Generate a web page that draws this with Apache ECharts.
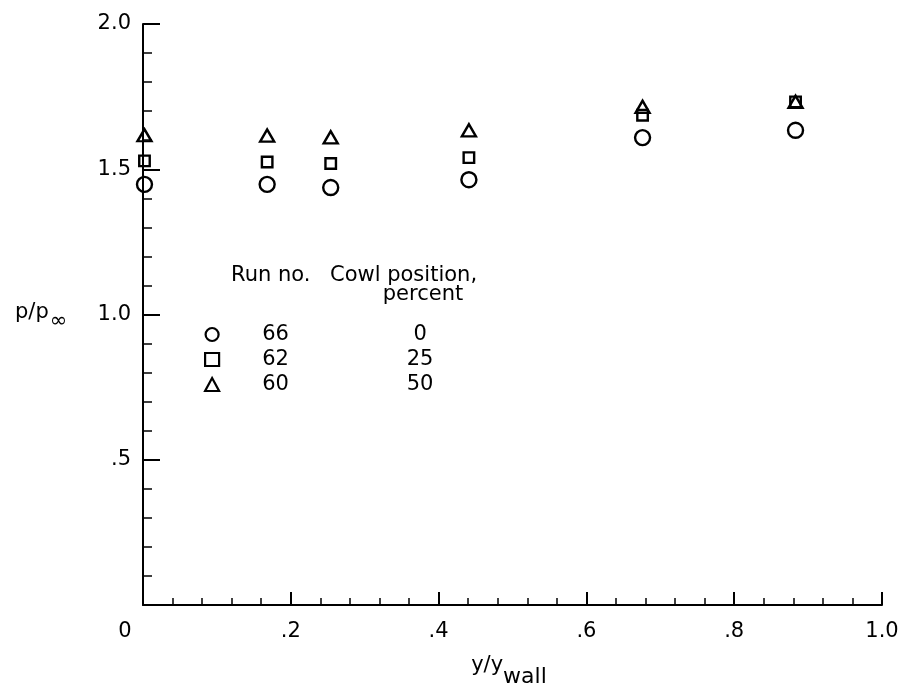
<!DOCTYPE html>
<html>
<head>
<meta charset="utf-8">
<script src="https://cdn.jsdelivr.net/npm/echarts@6/dist/echarts.min.js"></script>
<style>
  html, body { margin: 0; padding: 0; background: #fff; }
  #chart { width: 908px; height: 690px; }
</style>
</head>
<body>
<div id="chart"></div>
<script>
// Wall-normal station y/y_wall and static pressure ratio p/p_inf per run
const stations = [0.002, 0.168, 0.254, 0.441, 0.676, 0.883];
const run66 = [1.448, 1.448, 1.437, 1.464, 1.609, 1.634];
const run62 = [1.529, 1.525, 1.520, 1.540, 1.686, 1.732];
const run60 = [1.617, 1.616, 1.610, 1.634, 1.715, 1.732];

const runNumbers = ['66', '62', '60'];
const cowlPositions = ['0', '25', '50'];
const symbols = ['circle', 'rect', 'triangle'];
const symbolSizes = [15, 10.5, [14, 12]];
const runValues = [run66, run62, run60];

const xTickLabels = { '0': '{z|0}', '0.2': '.2', '0.4': '.4', '0.6': '.6', '0.8': '.8', '1': '1.0' };
const yTickLabels = { '0': '', '0.5': '.5', '1': '1.0', '1.5': '1.5', '2': '2.0' };

const FONT = '"DejaVu Sans", Verdana, sans-serif';
const INK = '#000';
const FS = 21;

const series = runNumbers.map((run, i) => ({
  name: run,
  type: 'scatter',
  symbol: symbols[i],
  symbolSize: symbolSizes[i],
  itemStyle: { color: 'rgba(0,0,0,0)', borderColor: INK, borderWidth: 2.4, opacity: 1 },
  emphasis: { disabled: true },
  data: stations.map((x, j) => [x, runValues[i][j]])
}));

const cowlByRun = {};
runNumbers.forEach((r, i) => { cowlByRun[r] = cowlPositions[i]; });

const chart = echarts.init(document.getElementById('chart'), null, { renderer: 'canvas' });
chart.setOption({
  animation: false,
  backgroundColor: '#fff',
  grid: { left: 143, right: 26, top: 24, bottom: 85, containLabel: false },
  xAxis: {
    type: 'value', min: 0, max: 1, interval: 0.2,
    axisLine: { show: true, onZero: false, lineStyle: { color: INK, width: 2 } },
    axisTick: { show: true, inside: true, length: 13, lineStyle: { color: INK, width: 2 } },
    minorTick: { show: true, splitNumber: 5, length: 7, lineStyle: { color: INK, width: 1.5 } },
    splitLine: { show: false },
    axisLabel: {
      color: INK, fontFamily: FONT, fontSize: FS, margin: 16,
      formatter: v => xTickLabels[String(+v.toFixed(2))] ?? '',
      rich: { z: { fontFamily: FONT, fontSize: FS, color: INK, padding: [0, 36, 0, 0] } }
    }
  },
  yAxis: {
    type: 'value', min: 0, max: 2, interval: 0.5,
    axisLine: { show: true, onZero: false, lineStyle: { color: INK, width: 2 } },
    axisTick: { show: true, inside: true, length: 17, lineStyle: { color: INK, width: 2 } },
    minorTick: { show: true, splitNumber: 5, length: 9, lineStyle: { color: INK, width: 1.5 } },
    splitLine: { show: false },
    axisLabel: {
      color: INK, fontFamily: FONT, fontSize: FS, margin: 12,
      formatter: v => yTickLabels[String(+v.toFixed(2))] ?? ''
    }
  },
  legend: {
    orient: 'vertical',
    left: 204, top: 322, padding: 0,
    itemWidth: 14, itemHeight: 13, itemGap: 0,
    selectedMode: false,
    data: runNumbers.map((r, i) => ({ name: r, icon: symbols[i] })),
    itemStyle: { color: 'rgba(0,0,0,0)', borderColor: INK, borderWidth: 2.2, opacity: 1 },
    formatter: name => '{n|' + name + '}{v|' + cowlByRun[name] + '}',
    textStyle: {
      color: INK, fontFamily: FONT, fontSize: FS, lineHeight: 25,
      rich: {
        n: { fontFamily: FONT, fontSize: FS, color: INK, lineHeight: 25, width: 103, align: 'center' },
        v: { fontFamily: FONT, fontSize: FS, color: INK, lineHeight: 25, width: 186, align: 'center' }
      }
    }
  },
  graphic: [
    {
      type: 'text', x: 231, y: 265,
      style: { text: 'Run no.', font: FS + 'px ' + FONT, fill: INK }
    },
    {
      type: 'text', x: 330, y: 265,
      style: { text: 'Cowl position,', font: FS + 'px ' + FONT, fill: INK }
    },
    {
      type: 'text', x: 423, y: 284,
      style: { text: 'percent', font: FS + 'px ' + FONT, fill: INK, align: 'center' }
    },
    {
      type: 'text', x: 15, y: 302,
      style: {
        text: '{a|p/p}{b|\u221E}',
        rich: {
          a: { fontFamily: FONT, fontSize: FS, fill: INK, color: INK, lineHeight: 24, verticalAlign: 'top' },
          b: { fontFamily: FONT, fontSize: 21, fill: INK, color: INK, lineHeight: 22, padding: [9, 0, 0, 1], verticalAlign: 'top' }
        }
      }
    },
    {
      type: 'text', x: 509, y: 655,
      style: {
        text: '{a|y/y}{b|wall}',
        align: 'center',
        rich: {
          a: { fontFamily: FONT, fontSize: FS, fill: INK, color: INK, lineHeight: 24, verticalAlign: 'top' },
          b: { fontFamily: FONT, fontSize: 22, fill: INK, color: INK, lineHeight: 24, padding: [11, 0, 0, 0], verticalAlign: 'top' }
        }
      }
    }
  ],
  series: series
});
</script>
</body>
</html>
